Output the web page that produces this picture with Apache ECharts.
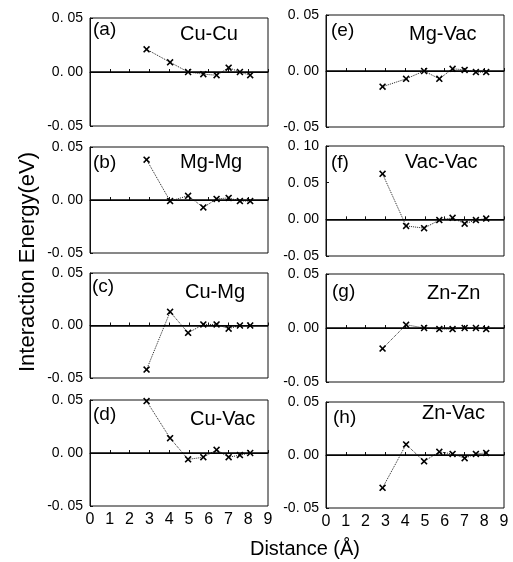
<!DOCTYPE html>
<html><head><meta charset="utf-8">
<script src="https://cdn.jsdelivr.net/npm/echarts@6/dist/echarts.min.js"></script>
<style>html,body{margin:0;padding:0;background:#fff}#c{width:513px;height:562px}</style>
</head><body><div id="c"></div>
<script>
// ---- data ----
const distances = [2.86, 4.05, 4.96, 5.73, 6.40, 7.01, 7.58, 8.10];
const xTickValues = [0, 1, 2, 3, 4, 5, 6, 7, 8, 9];
const panelLetters = ['(a)', '(b)', '(c)', '(d)', '(e)', '(f)', '(g)', '(h)'];
const pairNames = ['Cu-Cu', 'Mg-Mg', 'Cu-Mg', 'Cu-Vac', 'Mg-Vac', 'Vac-Vac', 'Zn-Zn', 'Zn-Vac'];
const cuCu   = [0.021, 0.009, 0.000, -0.002, -0.003, 0.004, 0.000, -0.003];
const mgMg   = [0.038, -0.001, 0.004, -0.007, 0.001, 0.002, -0.001, -0.001];
const cuMg   = [-0.042, 0.013, -0.007, 0.001, 0.001, -0.003, 0.000, 0.000];
const cuVac  = [0.049, 0.014, -0.006, -0.004, 0.003, -0.004, -0.002, 0.000];
const mgVac  = [-0.014, -0.007, 0.000, -0.007, 0.002, 0.001, -0.001, -0.001];
const vacVac = [0.062, -0.009, -0.012, -0.001, 0.002, -0.006, -0.001, 0.001];
const znZn   = [-0.019, 0.003, 0.000, -0.001, -0.001, 0.000, 0.000, -0.001];
const znVac  = [-0.031, 0.010, -0.006, 0.003, 0.001, -0.003, 0.001, 0.002];
const yMins = [-0.05, -0.05, -0.05, -0.05, -0.05, -0.05, -0.05, -0.05];
const yMaxs = [0.05, 0.05, 0.05, 0.05, 0.05, 0.10, 0.05, 0.05];
const yStep = 0.05;
const xTitle = 'Distance (Å)';
const yTitle = 'Interaction Energy(eV)';
const allSeries = [cuCu, mgMg, cuMg, cuVac, mgVac, vacVac, znZn, znVac];

// ---- layout ----
const grids = [
  {left: 90, top: 18, width: 178, height: 108},
  {left: 90, top: 147, width: 178, height: 106},
  {left: 90, top: 273, width: 178, height: 105},
  {left: 90, top: 400, width: 178, height: 106},
  {left: 326, top: 15, width: 178, height: 112},
  {left: 326, top: 146, width: 178, height: 110},
  {left: 326, top: 274, width: 178, height: 108},
  {left: 326, top: 402, width: 178, height: 106}
];
const letterPos = [[93, 30], [93, 163], [92, 287], [93, 415], [331, 31], [331, 163], [332, 292], [333, 418]];
const namePos = [[180, 34], [180, 162], [185, 292], [190, 419], [409, 34], [405, 162], [427, 293], [422, 413]];
const showXLabels = [false, false, false, true, false, false, false, true];

const FONT = "'Liberation Sans', Arial, sans-serif";
const crossPath = 'path://M0,1.6L1.6,0L5,3.4L8.4,0L10,1.6L6.6,5L10,8.4L8.4,10L5,6.6L1.6,10L0,8.4L3.4,5Z';

const fmt = v => {
  const s = Math.abs(v).toFixed(2).replace('.', '. ');
  return (v < -1e-9 ? '-' : '') + s;
};

const option = {
  animation: false,
  backgroundColor: '#fff',
  grid: grids.map(g => Object.assign({show: true, borderColor: '#111', borderWidth: 1, backgroundColor: 'transparent'}, g)),
  xAxis: grids.map((g, i) => ({
    type: 'value', gridIndex: i, min: xTickValues[0], max: xTickValues[xTickValues.length - 1], interval: 1,
    axisLine: {show: true, lineStyle: {color: '#111', width: 1}},
    axisTick: {show: true, inside: true, length: 3, lineStyle: {color: '#111'}},
    splitLine: {show: false},
    axisLabel: {show: showXLabels[i], fontSize: 16, color: '#000', margin: 6, fontFamily: "'Liberation Sans Narrow', 'Liberation Sans', sans-serif"}
  })),
  yAxis: grids.map((g, i) => ({
    type: 'value', gridIndex: i, min: yMins[i], max: yMaxs[i], interval: yStep,
    axisLine: {show: true, lineStyle: {color: '#111', width: 1}},
    axisTick: {show: true, inside: true, length: 3, lineStyle: {color: '#111'}},
    splitLine: {show: false},
    axisLabel: {fontSize: 14, color: '#000', margin: 7, fontFamily: FONT, formatter: fmt}
  })),
  series: allSeries.map((vals, i) => ({
    type: 'line', xAxisIndex: i, yAxisIndex: i,
    data: distances.map((d, j) => [d, vals[j]]),
    symbol: crossPath, symbolSize: 7, showSymbol: true,
    lineStyle: {type: 'dotted', width: 1, color: '#222'},
    itemStyle: {color: '#000'},
    markLine: {
      silent: true, symbol: 'none', animation: false,
      label: {show: false},
      lineStyle: {type: 'solid', color: '#000', width: 1.5},
      data: [{yAxis: 0}]
    },
    z: 3
  })),
  graphic: [].concat(
    panelLetters.map((t, i) => ({type: 'text', x: letterPos[i][0], y: letterPos[i][1],
      style: {text: t, font: "19px " + FONT, fill: '#000', verticalAlign: 'middle', align: 'left'}})),
    pairNames.map((t, i) => ({type: 'text', x: namePos[i][0], y: namePos[i][1],
      style: {text: t, font: "20px " + FONT, fill: '#000', verticalAlign: 'middle', align: 'left'}})),
    [
      {type: 'text', x: 305, y: 549, style: {text: xTitle, font: "20px " + FONT, fill: '#000', align: 'center', verticalAlign: 'middle'}},
      {type: 'text', x: 28, y: 262, rotation: Math.PI / 2, style: {text: yTitle, font: "22px " + FONT, fill: '#000', align: 'center', verticalAlign: 'middle'}}
    ]
  )
};
const chart = echarts.init(document.getElementById('c'), null, {renderer: 'canvas'});
chart.setOption(option);
</script>
</body></html>
